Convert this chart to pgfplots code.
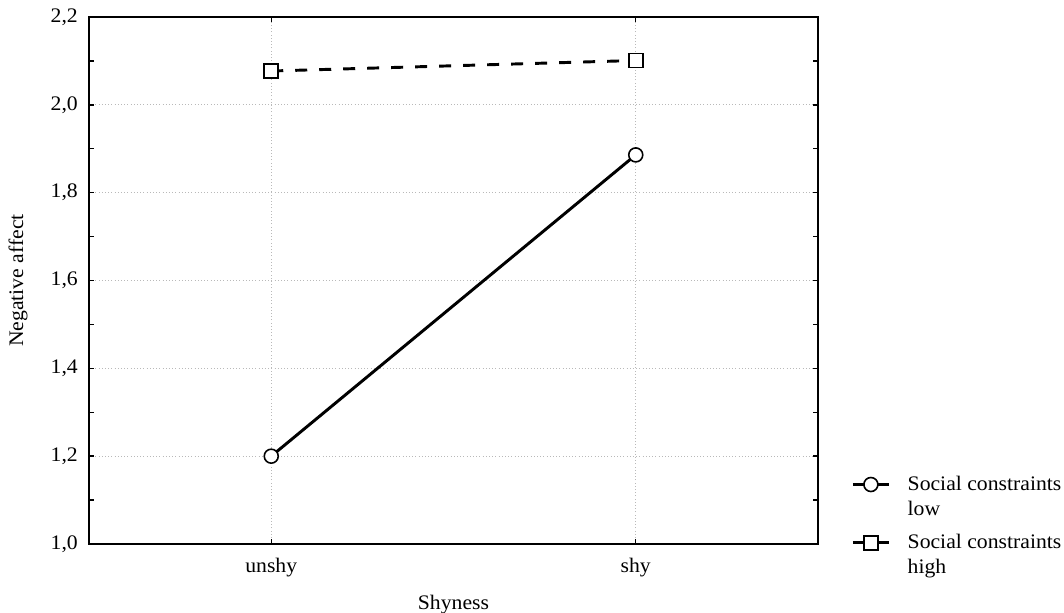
\documentclass[border=0pt]{standalone}
\usepackage{pgfplots}
\pgfplotsset{compat=1.18}
\usepackage{fontspec}
\setmainfont{Liberation Serif}[FakeStretch=1.05]
\newcommand{\chartfont}{\fontsize{15.5}{18.75}\selectfont}
\begin{document}
\chartfont
\begin{tikzpicture}[x=0.75pt,y=0.75pt]
\begin{axis}[
  name=ax,
  at={(0,0)}, anchor=south west,
  scale only axis,
  width=546.75pt, height=395.25pt,
  xmin=-0.5, xmax=1.5,
  ymin=1.0, ymax=2.2,
  xtick={0,1}, xticklabels={unshy,shy},
  ytick={1.0,1.2,1.4,1.6,1.8,2.0,2.2},
  minor ytick={1.1,1.3,1.5,1.7,1.9,2.1},
  tick align=inside,
  major tick length=4pt, minor tick length=4pt,
  tick style={black, line width=1.1pt},
  axis line style={line width=1.5pt},
  grid=major,
  major grid style={gray!55, dotted, line width=0.8pt},
  tick label style={font=\chartfont},
  label style={font=\chartfont},
  xticklabel style={yshift=-5pt},
  yticklabel style={xshift=-3pt, /pgf/number format/.cd, fixed, fixed zerofill, precision=1, use comma, assume math mode=true},
  xlabel={Shyness},
  ylabel={Negative affect},
  x label style={at={(axis description cs:0.5,-0.114)}, anchor=center},
  y label style={at={(axis description cs:-0.0974,0.5)}, anchor=center},
  legend style={at={(axis description cs:1.04,0.14)}, anchor=north west, draw=none, fill=none,
    cells={anchor=west, align=left}, row sep=8pt, font=\chartfont},
  legend image code/.code={%
    \draw[mark repeat=2,mark phase=2] plot coordinates {(0pt,9.4pt) (13.5pt,9.4pt) (27pt,9.4pt)};
    \path (0pt,-16pt) (38pt,16pt);},
]
\addplot[black, line width=2.2pt, mark=*, mark size=5.25pt, mark options={solid, fill=white, draw=black, line width=1.2pt}]
  coordinates {(0,1.200) (1,1.886)};
\addlegendentry{Social constraints\\low}
\addplot[black, line width=2.2pt, dash pattern=on 9pt off 9pt, mark=square*, mark size=5.25pt, mark options={solid, fill=white, draw=black, line width=1.2pt}]
  coordinates {(0,2.077) (1,2.101)};
\addlegendentry{Social constraints\\high}
\end{axis}
\pgfresetboundingbox
\path (-89,-68) rectangle (975,544);
\end{tikzpicture}
\end{document}
